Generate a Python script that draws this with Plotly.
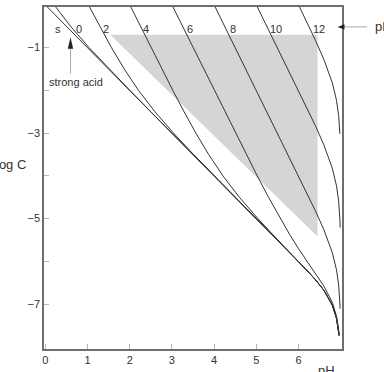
import plotly.graph_objects as go

# ---- data ----
# each curve: log C values and the corresponding pH
s_logc = [0, -1, -2, -3, -4, -5, -5.5, -6.004, -6.211, -6.428, -6.675, -7.021, -7.333, -7.637, -7.734]
s_ph   = [0, 1, 2, 3, 4, 5, 5.5, 6.0, 6.2, 6.4, 6.6, 6.8, 6.9, 6.95, 6.96]

p0_logc = [0, -0.5, -1, -1.5, -2, -2.5, -3, -4, -5, -5.5, -6.004, -6.211, -6.428, -6.675, -7.021, -7.333, -7.637, -7.734]
p0_ph   = [0.209, 0.598, 1.038, 1.513, 2.004, 2.501, 3.0, 4.0, 5.0, 5.5, 6.0, 6.2, 6.4, 6.6, 6.8, 6.9, 6.95, 6.96]

p2_logc = [0, -0.5, -1, -1.5, -2, -2.5, -3, -3.5, -4, -4.5, -5, -5.5, -6.004, -6.211, -6.428, -6.675, -7.021, -7.333, -7.637, -7.734]
p2_ph   = [1.022, 1.289, 1.568, 1.871, 2.209, 2.598, 3.038, 3.513, 4.004, 4.501, 5.0, 5.5, 6.0, 6.2, 6.4, 6.6, 6.8, 6.9, 6.95, 6.96]

p4_logc = [0, -0.5, -1, -1.5, -2, -2.5, -3, -3.5, -4, -4.5, -5, -5.487, -6.0, -6.208, -6.427, -6.674, -7.020, -7.332, -7.636, -7.734]
p4_ph   = [2.002, 2.254, 2.507, 2.762, 3.022, 3.289, 3.568, 3.871, 4.209, 4.598, 5.038, 5.5, 6.0, 6.2, 6.4, 6.6, 6.8, 6.9, 6.95, 6.96]

p6_logc = [0, -1, -2, -3, -3.5, -4, -4.5, -5, -5.389, -5.703, -5.999, -6.283, -6.578, -6.957, -7.282, -7.591, -7.689]
p6_ph   = [3.0, 3.501, 4.002, 4.507, 4.762, 5.022, 5.289, 5.568, 5.8, 6.0, 6.2, 6.4, 6.6, 6.8, 6.9, 6.95, 6.96]

p8_logc = [0, -1, -2, -2.999, -3.499, -4.0, -4.404, -4.818, -5.258, -5.794, -6.200, -6.550, -6.976, -7.106]
p8_ph   = [4.0, 4.5, 5.0, 5.5, 5.75, 6.0, 6.2, 6.4, 6.6, 6.8, 6.9, 6.95, 6.98, 6.985]

p10_logc = [0, -0.5, -1.0, -1.501, -2.004, -2.411, -2.828, -3.275, -3.820, -4.233, -4.587, -5.015, -5.209]
p10_ph   = [5.0, 5.25, 5.5, 5.75, 6.0, 6.2, 6.4, 6.6, 6.8, 6.9, 6.95, 6.98, 6.987]

p12_logc = [0.0, -0.411, -0.828, -1.275, -1.820, -2.233, -2.587, -3.016]
p12_ph   = [6.0, 6.2, 6.4, 6.6, 6.8, 6.9, 6.95, 6.98]

curves = [
    (s_ph, s_logc), (p0_ph, p0_logc), (p2_ph, p2_logc), (p4_ph, p4_logc),
    (p6_ph, p6_logc), (p8_ph, p8_logc), (p10_ph, p10_logc), (p12_ph, p12_logc),
]

# shaded region (pH, log C)
shade_ph   = [1.54, 6.45, 6.45]
shade_logc = [-0.70, -0.70, -5.42]

# curve labels and their positions (pH, log C)
curve_labels = ["s", "0", "2", "4", "6", "8", "10", "12"]
label_ph     = [0.31, 0.80, 1.44, 2.39, 3.43, 4.45, 5.47, 6.49]
label_logc   = [-0.56] * 8

x_ticks = [0, 1, 2, 3, 4, 5, 6]
x_ticktext = ["0", "1", "2", "3", "4", "5", "6"]
y_ticks = [-1, -2, -3, -4, -5, -6, -7]
y_ticktext = ["\u22121", "", "\u22123", "", "\u22125", "", "\u22127"]

# ---- figure ----
W, H = 384, 372
L, R, T, B = 44, 42, 5, 23
PW, PH = W - L - R, H - T - B

def px(xp):
    return (xp - L) / PW

def py(yp):
    return 1 - (yp - T) / PH

fig = go.Figure()

fig.add_trace(go.Scatter(
    x=shade_ph, y=shade_logc, fill="toself", mode="none",
    fillcolor="#d5d5d7", hoverinfo="skip", showlegend=False))

for xs, ys in curves:
    fig.add_trace(go.Scatter(
        x=xs, y=ys, mode="lines",
        line=dict(color="#333333", width=1),
        showlegend=False, hoverinfo="skip"))

font = "Liberation Sans, Arial, sans-serif"
annotations = []
for t, xv, yv in zip(curve_labels, label_ph, label_logc):
    annotations.append(dict(x=xv, y=yv, xref="x", yref="y", text=t, showarrow=False,
                            xanchor="center", yanchor="middle",
                            font=dict(family=font, size=11, color="#333333")))

annotations += [
    dict(x=px(76), y=py(80), xref="paper", yref="paper", text="strong acid", showarrow=False,
         xanchor="center", yanchor="middle",
         font=dict(family=font, size=11, color="#333333")),
    dict(x=px(28), y=py(163), xref="paper", yref="paper", text="log C", showarrow=False,
         xanchor="right", yanchor="middle", font=dict(family=font, size=13, color="#333333")),
    dict(x=px(326), y=py(361), xref="paper", yref="paper", text="pH", showarrow=False,
         xanchor="center", yanchor="top", font=dict(family=font, size=13, color="#333333")),
    dict(x=px(373), y=py(25), xref="paper", yref="paper", text="pK", showarrow=False,
         xanchor="left", yanchor="middle", font=dict(family=font, size=13, color="#333333")),
]

shapes = [
    # strong acid arrow
    dict(type="line", xref="paper", yref="paper", x0=px(70.5), x1=px(70.5), y0=py(46), y1=py(72),
         line=dict(color="#aaaaaa", width=1)),
    dict(type="path", xref="paper", yref="paper",
         path=f"M {px(70.5)},{py(35.5)} L {px(73.2)},{py(47)} L {px(67.8)},{py(47)} Z",
         fillcolor="#222222", line=dict(width=0)),
    # pK arrow
    dict(type="line", xref="paper", yref="paper", x0=px(343), x1=px(367), y0=py(25), y1=py(25),
         line=dict(color="#aaaaaa", width=1)),
    dict(type="path", xref="paper", yref="paper",
         path=f"M {px(337.5)},{py(25)} L {px(344.5)},{py(22.3)} L {px(344.5)},{py(27.7)} Z",
         fillcolor="#222222", line=dict(width=0)),
]

fig.update_layout(
    width=W, height=H,
    margin=dict(l=L, r=R, t=T, b=B, pad=0),
    plot_bgcolor="white", paper_bgcolor="white",
    showlegend=False,
    annotations=annotations,
    shapes=shapes,
    font=dict(family=font, size=11, color="#333333"),
)

fig.update_xaxes(
    range=[-0.03, 7.03], showgrid=False, zeroline=False,
    showline=True, linecolor="#6e6e6e", linewidth=1.5, mirror=True,
    ticks="inside", ticklen=5, tickcolor="#b5b5b5", tickwidth=1,
    tickvals=x_ticks, ticktext=x_ticktext,
    tickfont=dict(family=font, size=11, color="#333333"),
)
fig.update_yaxes(
    range=[-8.05, -0.05], showgrid=False, zeroline=False,
    showline=True, linecolor="#6e6e6e", linewidth=1.5, mirror=True,
    ticks="inside", ticklen=5, tickcolor="#b5b5b5", tickwidth=1,
    tickvals=y_ticks, ticktext=y_ticktext,
    tickfont=dict(family=font, size=11, color="#333333"),
)

fig.write_html("out.html")
